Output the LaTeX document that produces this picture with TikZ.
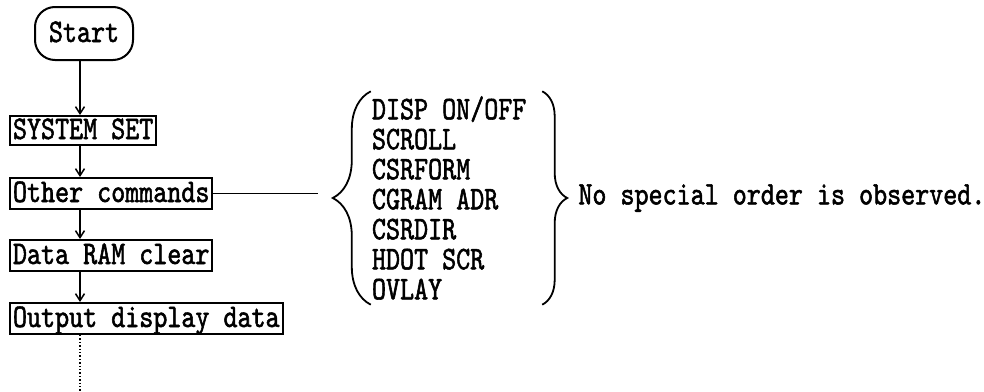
\documentclass[tikz,border=0pt]{standalone}
\usepackage{fontspec}
\setmonofont[FakeStretch=0.81,FakeBold=1.6]{lmmono10-regular.otf}
\usetikzlibrary{positioning,arrows.meta,decorations.pathreplacing}
\newcommand{\chartfont}{\ttfamily\fontsize{33}{30}\selectfont}
\tikzset{
box/.style={
draw,
line width=2pt,
inner xsep=3pt,
inner ysep=1pt,
minimum height=31pt,
text height=22pt,
text depth=5pt,
font=\chartfont
},
startbox/.style={
box,
rounded corners=20pt,
minimum width=98pt,
minimum height=53pt
},
cmdlist/.style={
align=left,
text width=169pt,
inner xsep=1pt,
inner ysep=0pt,
minimum height=213pt,
font=\chartfont
},
curly/.style={
decorate,
decoration={brace,amplitude=#1},
line width=1.8pt
},
arrow/.style={
-{Straight Barb[length=7pt,width=9pt]},
line width=1.5pt
}
}

\begin{document}
\begin{tikzpicture}[x=1pt,y=-1pt,node distance=30pt]
\useasboundingbox (0,0) rectangle (984,391);
\coordinate (spine) at (80,0);

\node[startbox] (start) at (84,33.5) {Start};
\node[box,anchor=north west,minimum height=29pt] (sys) at (9,115) {SYSTEM SET};
\node[box,below=31pt of sys.south west,anchor=north west] (oth) {Other commands};
\node[box,below=29pt of oth.south west,anchor=north west] (ram) {Data RAM clear};
\node[box,below=30pt of ram.south west,anchor=north west] (out) {Output display data};
\coordinate (cont) at (out.south -| spine);
\coordinate[below=59pt of cont] (more);

% spaces kept at full width inside the list
\node[cmdlist] (cmds) at (456.5,198) {\spaceskip=0pt DISP ON/OFF\\SCROLL\\CSRFORM\\CGRAM ADR\\CSRDIR\\HDOT SCR\\OVLAY};
\node[font=\chartfont,inner sep=2pt,right=34pt of cmds.east] (note) {No special order is observed.};
\coordinate[right=105pt of oth.east] (link);

\draw[arrow] (start.south -| spine) -- (sys.north -| spine);
\foreach \x/\y in {sys/oth,oth/ram,ram/out}
\draw[arrow] (\x.south -| spine) -- (\y.north -| spine);
\draw[dotted,line width=1.4pt] (cont) -- (more);

\draw[line width=1.5pt] (oth.east) -- (link);
\draw[curly=38pt] (cmds.south west) -- (cmds.north west);
\draw[curly=25pt] (cmds.north east) -- (cmds.south east);
\end{tikzpicture}
\end{document}
